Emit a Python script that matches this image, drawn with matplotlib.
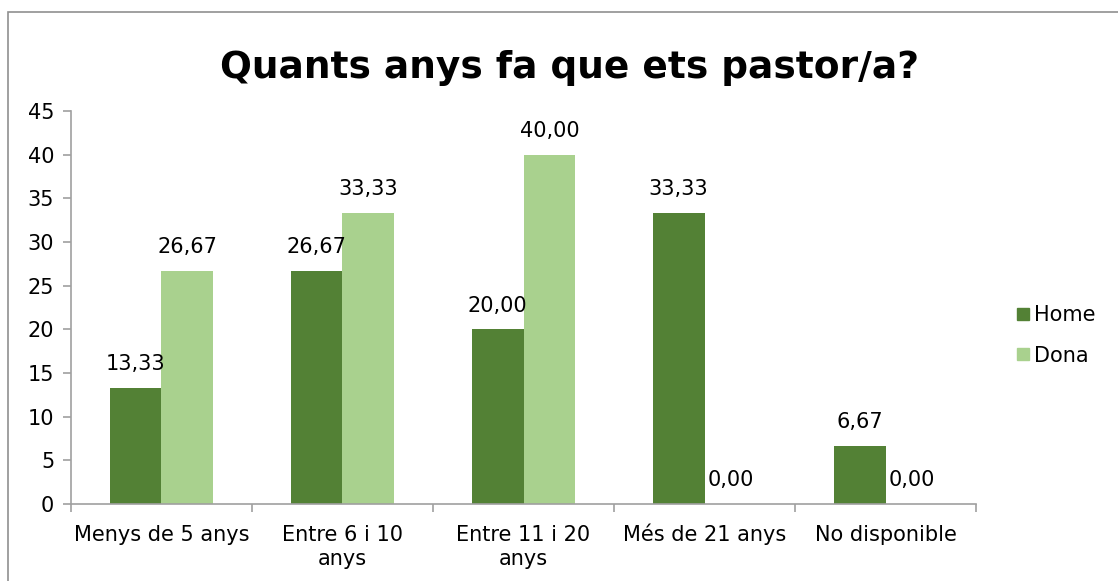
import numpy as np
import matplotlib
matplotlib.use("Agg")
from matplotlib import pyplot as plt
from matplotlib.patches import Rectangle
from matplotlib.lines import Line2D

categories = ["Menys de 5 anys", "Entre 6 i 10\nanys", "Entre 11 i 20\nanys",
              "Més de 21 anys", "No disponible"]
home = [13.33, 26.67, 20.00, 33.33, 6.67]
dona = [26.67, 33.33, 40.00, 0.00, 0.00]
series_names = ["Home", "Dona"]
colors = ["#538135", "#a9d18e"]

plt.rcParams['font.family'] = ['DejaVu Sans']

fig = plt.figure(figsize=(11.18, 5.81), dpi=100)
ax = fig.add_axes([0.0635, 0.1325, 0.8095, 0.6765])

x = np.arange(len(categories))
w = 0.287
for vals, off, col in [(home, -w / 2, colors[0]), (dona, w / 2, colors[1])]:
    ax.bar(x + off, vals, width=w, color=col)
    for xi, v in zip(x + off, vals):
        ax.annotate(("%.2f" % v).replace(".", ","), (xi, v), xytext=(0, 17),
                    textcoords="offset points", ha="center", va="center",
                    fontsize=15)

ax.set_xlim(-0.5, len(categories) - 0.5)
ax.set_ylim(0, 45)
ax.set_yticks(range(0, 50, 5))
# category labels drawn line by line so the first lines share a baseline
ax.set_xticks(x)
ax.set_xticklabels([])
for xi, lab in zip(x, categories):
    for k, line in enumerate(lab.split("\n")):
        ax.annotate(line, (xi, 0), xycoords=ax.get_xaxis_transform(),
                    xytext=(0, -26.4 - 17.5 * k), textcoords="offset points",
                    ha="center", va="baseline", fontsize=15)
ax.set_xticks(np.arange(-0.5, len(categories), 1.0), minor=True)
ax.tick_params(axis="x", which="major", length=0)
ax.tick_params(axis="x", which="minor", length=6, color="#a0a0a0", width=1.2)
ax.tick_params(axis="y", labelsize=15, length=6, color="#a0a0a0", width=1.2, pad=6)
for s in ["top", "right"]:
    ax.spines[s].set_visible(False)
for s in ["left", "bottom"]:
    ax.spines[s].set_color("#a0a0a0")
    ax.spines[s].set_linewidth(1.2)

fig.text(0.509, 0.883, "Quants anys fa que ets pastor/a?", ha="center",
         va="center", fontsize=27, fontweight="bold")

handles = [Line2D([], [], marker="s", linestyle="none", markersize=9,
                  markerfacecolor=c, markeredgecolor=c) for c in colors]
fig.legend(handles, series_names, loc="center left",
           bbox_to_anchor=(0.8895, 0.423), frameon=False, fontsize=15,
           handletextpad=0.1, labelspacing=1.0, handlelength=0.9)

fig.patches.append(Rectangle((0.007, -0.1), 1.2, 1.079, transform=fig.transFigure,
                             fill=False, edgecolor="#909090", linewidth=1.2))

fig.savefig("out.png", dpi=100)
